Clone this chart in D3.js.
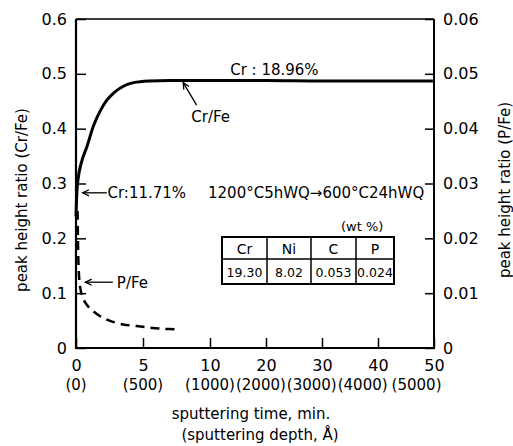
<!DOCTYPE html>
<html>
<head>
<meta charset="utf-8">
<script src="https://cdn.jsdelivr.net/npm/d3@7"></script>
<style>
  html, body { margin: 0; padding: 0; background: #fff; }
  svg { display: block; }
  text { font-family: "DejaVu Sans", sans-serif; fill: #000; }
</style>
</head>
<body>
<script>
// ---- data ----
const crTime  = [0, 0.03, 0.08, 0.15, 0.4, 0.8, 1.3, 1.8, 2.3, 2.8, 3.5, 4.3, 5.5, 7, 10, 20, 30, 40, 49.8];
const crRatio = [0.24, 0.262, 0.29, 0.307, 0.338, 0.366, 0.405, 0.432, 0.452, 0.465, 0.477, 0.484, 0.487, 0.488, 0.488, 0.488, 0.487, 0.487, 0.487];

const pTime  = [0.12, 0.15, 0.2, 0.3, 0.5, 0.8, 1.2, 1.8, 2.5, 3.5, 4.5, 5.5, 6.5, 7.5];
const pRatio = [0.025, 0.019, 0.0145, 0.0112, 0.0092, 0.0079, 0.0069, 0.0058, 0.0050, 0.0043, 0.0040, 0.0037, 0.0035, 0.0034];

const xTicks = [0, 5, 10, 20, 30, 40, 50];
const xTickLabels = ["0", "5", "10", "20", "30", "40", "50"];
const depthLabels = ["(0)", "(500)", "(1000)", "(2000)", "(3000)", "(4000)", "(5000)"];
const leftTicks = [0, 0.1, 0.2, 0.3, 0.4, 0.5, 0.6];
const leftTickLabels = ["0", "0.1", "0.2", "0.3", "0.4", "0.5", "0.6"];
const rightTicks = [0, 0.01, 0.02, 0.03, 0.04, 0.05, 0.06];
const rightTickLabels = ["0", "0.01", "0.02", "0.03", "0.04", "0.05", "0.06"];
const tableHeaders = ["Cr", "Ni", "C", "P"];
const tableValues = ["19.30", "8.02", "0.053", "0.024"];

// ---- layout ----
const W = 513, H = 446;
const L = 76, R = 434, T = 19, B = 348;

const svg = d3.select("body").append("svg").attr("width", W).attr("height", H);

const x = d3.scaleLinear().domain([0, 10, 50]).range([L, 210, R]);
const yL = d3.scaleLinear().domain([0, 0.6]).range([B, T]);
const yR = d3.scaleLinear().domain([0, 0.06]).range([B, T]);

function styleAxis(g) {
  g.select(".domain").remove();
  g.attr("font-size", 16).attr("font-family", "DejaVu Sans");
  g.selectAll(".tick line").attr("stroke", "#000").attr("stroke-width", 1.5);
  g.selectAll(".tick text").attr("fill", "#000");
}

// axes
const gx = svg.append("g").attr("transform", `translate(0,${B})`)
  .call(d3.axisBottom(x).tickValues(xTicks).tickFormat((d, i) => xTickLabels[i])
    .tickSizeInner(-10).tickSizeOuter(0).tickPadding(12));
styleAxis(gx);

// depth labels (second row), first three centred on ticks, rest packed side by side
const dl = svg.append("g");
let prevRight = null;
depthLabels.forEach((s, i) => {
  const t = dl.append("text").attr("y", B + 42).attr("font-size", 15).text(s);
  const w = t.node().getComputedTextLength();
  let cx;
  if (i <= 2) cx = x(xTicks[i]);
  else cx = prevRight + (i === depthLabels.length - 1 ? 4 : 1) + w / 2;
  t.attr("x", cx).attr("text-anchor", "middle");
  prevRight = cx + w / 2;
});

const gl = svg.append("g").attr("transform", `translate(${L},0)`)
  .call(d3.axisLeft(yL).tickValues(leftTicks).tickFormat((d, i) => leftTickLabels[i])
    .tickSizeInner(-10).tickSizeOuter(0).tickPadding(9));
styleAxis(gl);

const gr = svg.append("g").attr("transform", `translate(${R},0)`)
  .call(d3.axisRight(yR).tickValues(rightTicks).tickFormat((d, i) => rightTickLabels[i])
    .tickSizeInner(-9).tickSizeOuter(0).tickPadding(9));
styleAxis(gr);

// frame
svg.append("line").attr("x1", L).attr("x2", R).attr("y1", T).attr("y2", T).attr("stroke", "#000").attr("stroke-width", 1.5);
svg.append("line").attr("x1", L).attr("x2", R).attr("y1", B).attr("y2", B).attr("stroke", "#000").attr("stroke-width", 2.2);
svg.append("line").attr("x1", L).attr("x2", L).attr("y1", T).attr("y2", B + 1).attr("stroke", "#000").attr("stroke-width", 2.2);
svg.append("line").attr("x1", R).attr("x2", R).attr("y1", T).attr("y2", B + 1).attr("stroke", "#000").attr("stroke-width", 2);

// curves
const crPath = d3.line().x(d => x(d[0])).y(d => yL(d[1])).curve(d3.curveMonotoneX);
svg.append("path").datum(crTime.map((t, i) => [t, crRatio[i]]))
  .attr("d", crPath).attr("fill", "none").attr("stroke", "#000").attr("stroke-width", 3);

const pPath = d3.line().x(d => x(d[0])).y(d => yR(d[1])).curve(d3.curveCatmullRom);
svg.append("path").datum(pTime.map((t, i) => [t, pRatio[i]]))
  .attr("d", pPath).attr("fill", "none").attr("stroke", "#000").attr("stroke-width", 2.5)
  .attr("stroke-dasharray", "9,6");

// arrows
function arrow(x1, y1, x2, y2) {
  const a = Math.atan2(y2 - y1, x2 - x1), len = 7, sp = 0.45;
  svg.append("line").attr("x1", x1).attr("y1", y1).attr("x2", x2).attr("y2", y2)
    .attr("stroke", "#000").attr("stroke-width", 1.3);
  svg.append("path")
    .attr("d", `M${x2 - len * Math.cos(a - sp)},${y2 - len * Math.sin(a - sp)} L${x2},${y2} L${x2 - len * Math.cos(a + sp)},${y2 - len * Math.sin(a + sp)}`)
    .attr("fill", "none").attr("stroke", "#000").attr("stroke-width", 1.3);
}

// annotations (anchored in data space)
svg.append("text").attr("x", x(13.6)).attr("y", yL(0.498)).attr("font-size", 15).text("Cr : 18.96%");
arrow(x(9.0), yL(0.443), x(8.0), yL(0.484));
svg.append("text").attr("x", x(8.6)).attr("y", yL(0.412)).attr("font-size", 15).text("Cr/Fe");

arrow(x(2.3), yL(0.283), x(0.5), yL(0.283));
svg.append("text").attr("x", x(2.35)).attr("y", yL(0.274)).attr("font-size", 15).text("Cr:11.71%");

svg.append("text").attr("x", 208).attr("y", 198).attr("font-size", 15).text("1200°C5hWQ→600°C24hWQ");
svg.append("text").attr("x", 341).attr("y", 231).attr("font-size", 13).text("(wt %)");

arrow(x(2.75), yL(0.12), x(0.7), yL(0.12));
svg.append("text").attr("x", x(3.05)).attr("y", yL(0.11)).attr("font-size", 15).text("P/Fe");

// composition table
const colW = [45, 44, 45, 38];
const tx0 = 222, ty0 = 237, rowH1 = 22, rowH2 = 25;
const tg = svg.append("g");
const tw = d3.sum(colW);
tg.append("rect").attr("x", tx0).attr("y", ty0).attr("width", tw).attr("height", rowH1 + rowH2)
  .attr("fill", "none").attr("stroke", "#000").attr("stroke-width", 2);
tg.append("line").attr("x1", tx0).attr("x2", tx0 + tw).attr("y1", ty0 + rowH1).attr("y2", ty0 + rowH1)
  .attr("stroke", "#000").attr("stroke-width", 1.5);
let cx = tx0;
colW.forEach((w, i) => {
  if (i > 0) tg.append("line").attr("x1", cx).attr("x2", cx).attr("y1", ty0).attr("y2", ty0 + rowH1 + rowH2)
    .attr("stroke", "#000").attr("stroke-width", 1.5);
  tg.append("text").attr("x", cx + w / 2).attr("y", ty0 + 17).attr("text-anchor", "middle")
    .attr("font-size", 14).text(tableHeaders[i]);
  tg.append("text").attr("x", cx + w / 2).attr("y", ty0 + rowH1 + 18).attr("text-anchor", "middle")
    .attr("font-size", 12.5).text(tableValues[i]);
  cx += w;
});

// axis titles
svg.append("text").attr("x", 251).attr("y", 419).attr("text-anchor", "middle").attr("font-size", 15)
  .text("sputtering time, min.");
svg.append("text").attr("x", 260).attr("y", 440).attr("text-anchor", "middle").attr("font-size", 15)
  .text("(sputtering depth, Å)");
svg.append("text").attr("transform", "translate(27,200) rotate(-90)").attr("text-anchor", "middle")
  .attr("font-size", 15).text("peak height ratio (Cr/Fe)");
svg.append("text").attr("transform", "translate(510,190) rotate(-90)").attr("text-anchor", "middle")
  .attr("font-size", 15).text("peak height ratio (P/Fe)");
</script>
</body>
</html>
